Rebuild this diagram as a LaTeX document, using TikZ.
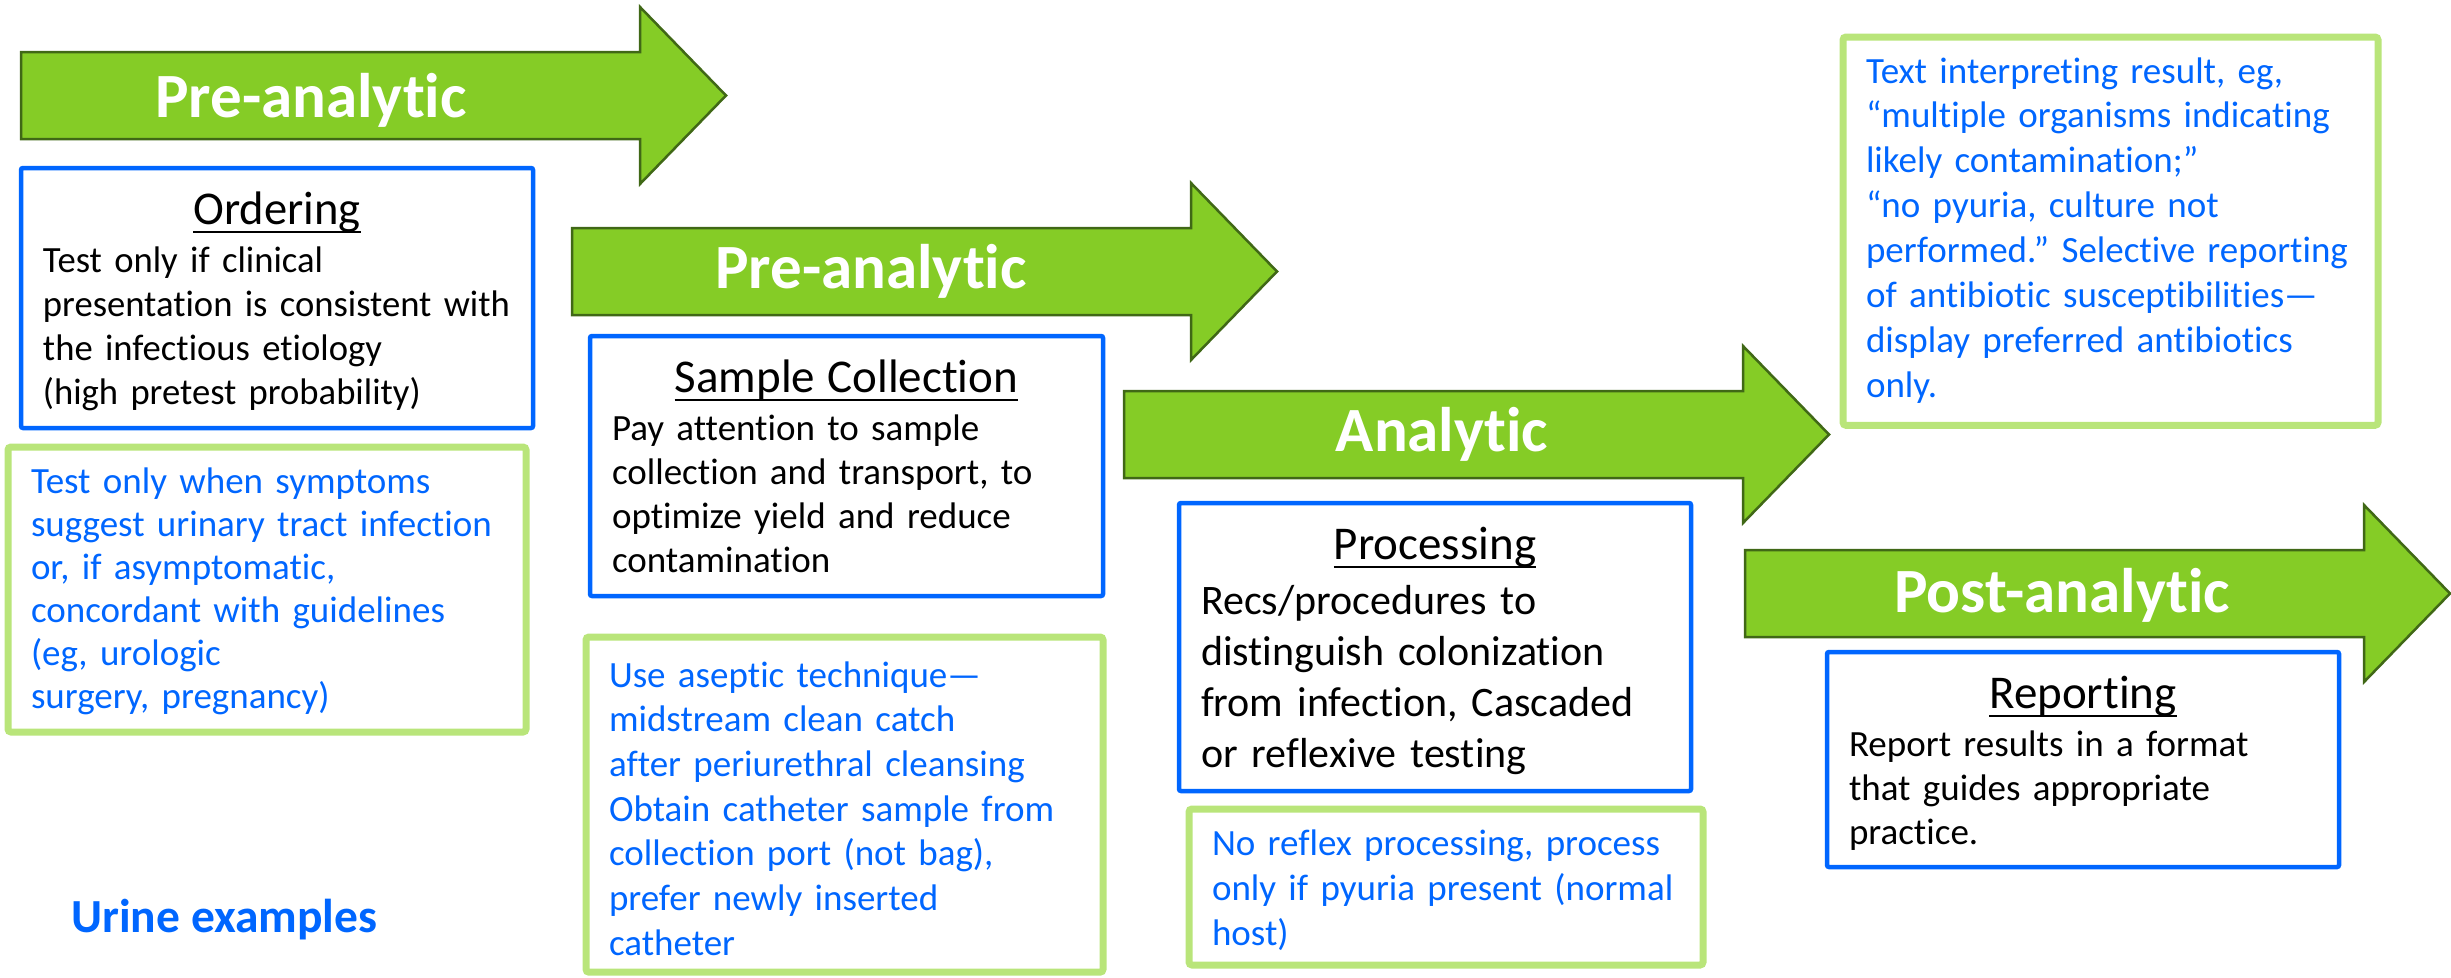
\documentclass[tikz,border=0pt]{standalone}
\usepackage{fontspec}
\setmainfont{Carlito}[Ligatures=CommonOff]
\setlength{\parindent}{0pt}
\frenchspacing

\definecolor{arrowgreen}{RGB}{133,204,38}
\definecolor{arrowedge}{RGB}{64,104,22}
\definecolor{boxblue}{RGB}{0,102,255}
\definecolor{notegreen}{RGB}{185,229,122}

% struts that fix the top and bottom of a box's text
\newcommand{\tstrut}[1]{\rule{0pt}{#1pt}}
\newcommand{\bstrut}[1]{\rule[-#1pt]{0pt}{#1pt}}
\newcommand{\ulhead}[1]{\setbox0\hbox{#1}\rlap{\rule[-9pt]{\wd0}{2.2pt}}\box0}
\newcommand{\boxhead}[1]{\makebox[\linewidth]{\fontsize{47}{50}\selectfont\tstrut{56}\ulhead{#1}}\\[4pt]}
\newcommand{\boxfont}[3]{\fontsize{#1}{#2}\selectfont\addfontfeature{FakeStretch=#3}}

\begin{document}
\begin{tikzpicture}
  [x=1pt,y=-1pt,every node/.style={outer sep=0pt},
   phase/.style={fill=arrowgreen,draw=arrowedge,line width=2.5pt,line join=miter},
   phaselabel/.style={anchor=base,text=white,font=\fontsize{63}{70}\selectfont\bfseries},
   stepbox/.style={draw=boxblue,line width=4.5pt,rounded corners=2pt,anchor=north west,inner xsep=22pt,inner ysep=0pt,align=left},
   notebox/.style={draw=notegreen,line width=7pt,rounded corners=3pt,anchor=north west,inner xsep=23pt,inner ysep=0pt,align=left,text=boxblue}]

  \useasboundingbox (0,0) rectangle (2451,977);

  % phase arrows
  \foreach \x/\y/\lx/\ly/\txt [count=\i] in {21/52/311/117/Pre-analytic,572/228/871/288/Pre-analytic,1124/391/1442/451/Analytic,1745/550/2062/612/Post-analytic}
  {
    \draw[phase] (\x,\y) -- ++(619,0) -- ++(0,-45) -- ++(86,88.5) -- ++(-86,88.5) -- ++(0,-45) -- ++(-619,0) -- cycle;
    \node[phaselabel] (phase\i) at (\lx,\ly) {\txt};
  }

  % steps
  \node[stepbox,text width=468pt,font=\boxfont{37}{44}{0.99}] (ordering) at (21,168) {\boxhead{Ordering}Test only if clinical\\presentation is consistent with\\the infectious etiology\\(high pretest probability)\bstrut{24}};
  \node[stepbox,text width=469pt,font=\boxfont{37}{44}{1.0}] (collection) at (590,336) {\boxhead{Sample Collection}Pay attention to sample\\collection and transport, to\\optimize yield and reduce\\contamination\bstrut{24}};
  \node[stepbox,text width=468pt,font=\boxfont{42}{51}{1.0}] (processing) at (1179,503) {\boxhead{Processing}Recs/procedures to\\distinguish colonization\\from infection, Cascaded\\or reflexive testing\bstrut{24}};
  \node[stepbox,text width=468pt,font=\boxfont{37}{44}{1.0}] (reporting) at (1827,652) {\boxhead{Reporting}Report results in a format\\that guides appropriate\\practice.\bstrut{23}};

  % urine examples
  \node[notebox,text width=472pt,font=\boxfont{37}{43}{1.0}] (note1) at (8,447) {\tstrut{46}Test only when symptoms\\suggest urinary tract infection\\or, if asymptomatic,\\concordant with guidelines\\(eg, urologic\\surgery, pregnancy)\bstrut{24}};
  \node[notebox,text width=471pt,font=\boxfont{37}{44.7}{1.0}] (note2) at (586,637) {\tstrut{50}Use aseptic technique—\\midstream clean catch\\after periurethral cleansing\\Obtain catheter sample from\\collection port (not bag),\\prefer newly inserted\\catheter\bstrut{17}};
  \node[notebox,text width=468pt,font=\boxfont{37}{45}{1.0}] (note3) at (1189,809) {\tstrut{46}No reflex processing, process\\only if pyuria present (normal\\host)\bstrut{20}};
  \node[notebox,text width=489pt,font=\boxfont{37}{44.9}{1.0}] (note4) at (1843,37) {\tstrut{46}Text interpreting result, eg,\\“multiple organisms indicating\\likely contamination;”\\“no pyuria, culture not\\performed.” Selective reporting\\of antibiotic susceptibilities—\\display preferred antibiotics\\only.\bstrut{28}};

  \node[anchor=base west,text=boxblue,font=\fontsize{47.5}{50}\selectfont\bfseries] (urine) at (68,932) {Urine examples};

\end{tikzpicture}
\end{document}
